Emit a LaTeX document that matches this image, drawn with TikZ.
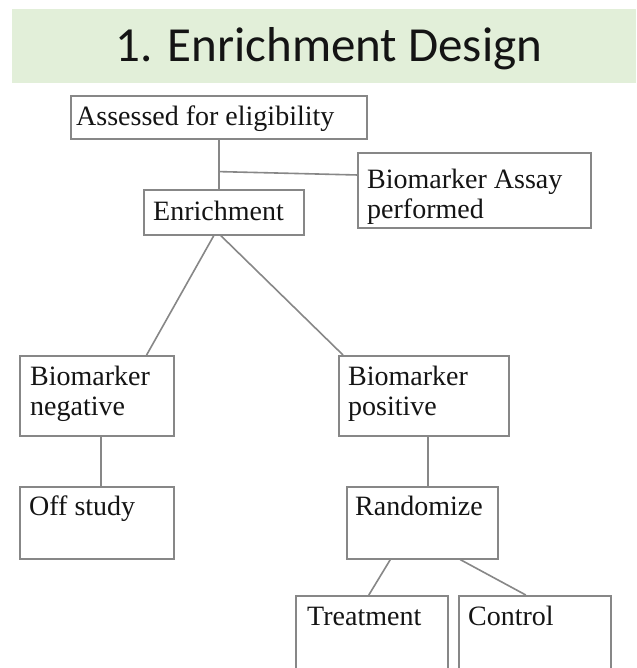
\documentclass[tikz,border=0pt]{standalone}
\usepackage{fontspec}
\setmainfont{Liberation Serif}
\newfontfamily\titlefont{Carlito}
\usetikzlibrary{calc}
\definecolor{bandgreen}{RGB}{226,239,217}
\definecolor{boxgray}{RGB}{135,135,135}
\definecolor{inkc}{RGB}{20,20,20}
\tikzset{
  stepbox/.style={draw=boxgray, line width=1.6pt, anchor=north west, inner sep=0pt},
  lbl/.style={inner sep=0pt, text=inkc, font=\fontsize{28}{30}\selectfont, align=left},
  conn/.style={draw=boxgray, line width=1.6pt},
}
\begin{document}
\begin{tikzpicture}[x=1pt, y=-1pt]
\fill[white] (0,0) rectangle (636,668);
\useasboundingbox (0,0) rectangle (636,668);
\clip (0,0) rectangle (636,668);
% title band
\fill[bandgreen] (12,9) rectangle (636,83);
\node[inner sep=0pt, text=inkc, font=\titlefont\fontsize{49}{52}\selectfont] (title) at (329,49) {1. Enrichment Design};
% boxes
\node[stepbox, minimum width=296pt, minimum height=43pt] (assess) at (70,95) {};
\node[stepbox, minimum width=233pt, minimum height=75pt] (assay) at (357,152) {};
\node[stepbox, minimum width=160pt, minimum height=45pt] (enrich) at (143,189) {};
\node[stepbox, minimum width=154pt, minimum height=80pt] (neg) at (19,355) {};
\node[stepbox, minimum width=170pt, minimum height=80pt] (pos) at (338,355) {};
\node[stepbox, minimum width=154pt, minimum height=72pt] (off) at (19,486) {};
\node[stepbox, minimum width=151pt, minimum height=72pt] (rand) at (346,486) {};
\node[stepbox, minimum width=152pt, minimum height=100pt] (treat) at (295,595) {};
\node[stepbox, minimum width=152pt, minimum height=100pt] (ctrl) at (458,595) {};
% labels
\node[lbl, anchor=base west] (tassess) at (76,126) {Assessed for eligibility};
\node[lbl, anchor=north west] (tassay) at (367,169) {Biomarker Assay\\performed};
\node[lbl, anchor=base west] (tenrich) at (153,220) {Enrichment};
\node[lbl, anchor=north west] (tneg) at (30,366) {Biomarker\\negative};
\node[lbl, anchor=north west] (tpos) at (348,366) {Biomarker\\positive};
\node[lbl, anchor=base west] (toff) at (29,515) {Off study};
\node[lbl, anchor=base west] (trand) at (355,515) {Randomize};
\node[lbl, anchor=base west] (ttreat) at (307,625) {Treatment};
\node[lbl, anchor=base west] (tctrl) at (468,625) {Control};
% connectors
\coordinate (j) at ($(assess.south)+(0,32)$);
\draw[conn] (assess.south) -- (assess.south |- enrich.north);
\draw[conn] (j) -- ($(assay.north west)!0.3!(assay.south west)$);
\draw[conn] ([xshift=-10pt]enrich.south) -- ($(neg.north west)!0.82!(neg.north east)$);
\draw[conn] ([xshift=-3pt]enrich.south) -- ([xshift=5pt]pos.north west);
\draw[conn] ([xshift=4pt]neg.south) -- ([xshift=4pt]neg.south |- off.north);
\draw[conn] ([xshift=4pt]pos.south) -- ([xshift=4pt]pos.south |- rand.north);
\draw[conn] ([xshift=-32pt]rand.south) -- ([xshift=-3pt]treat.north);
\draw[conn] ([xshift=38pt]rand.south) -- ([xshift=-9pt]ctrl.north);
\end{tikzpicture}
\end{document}
